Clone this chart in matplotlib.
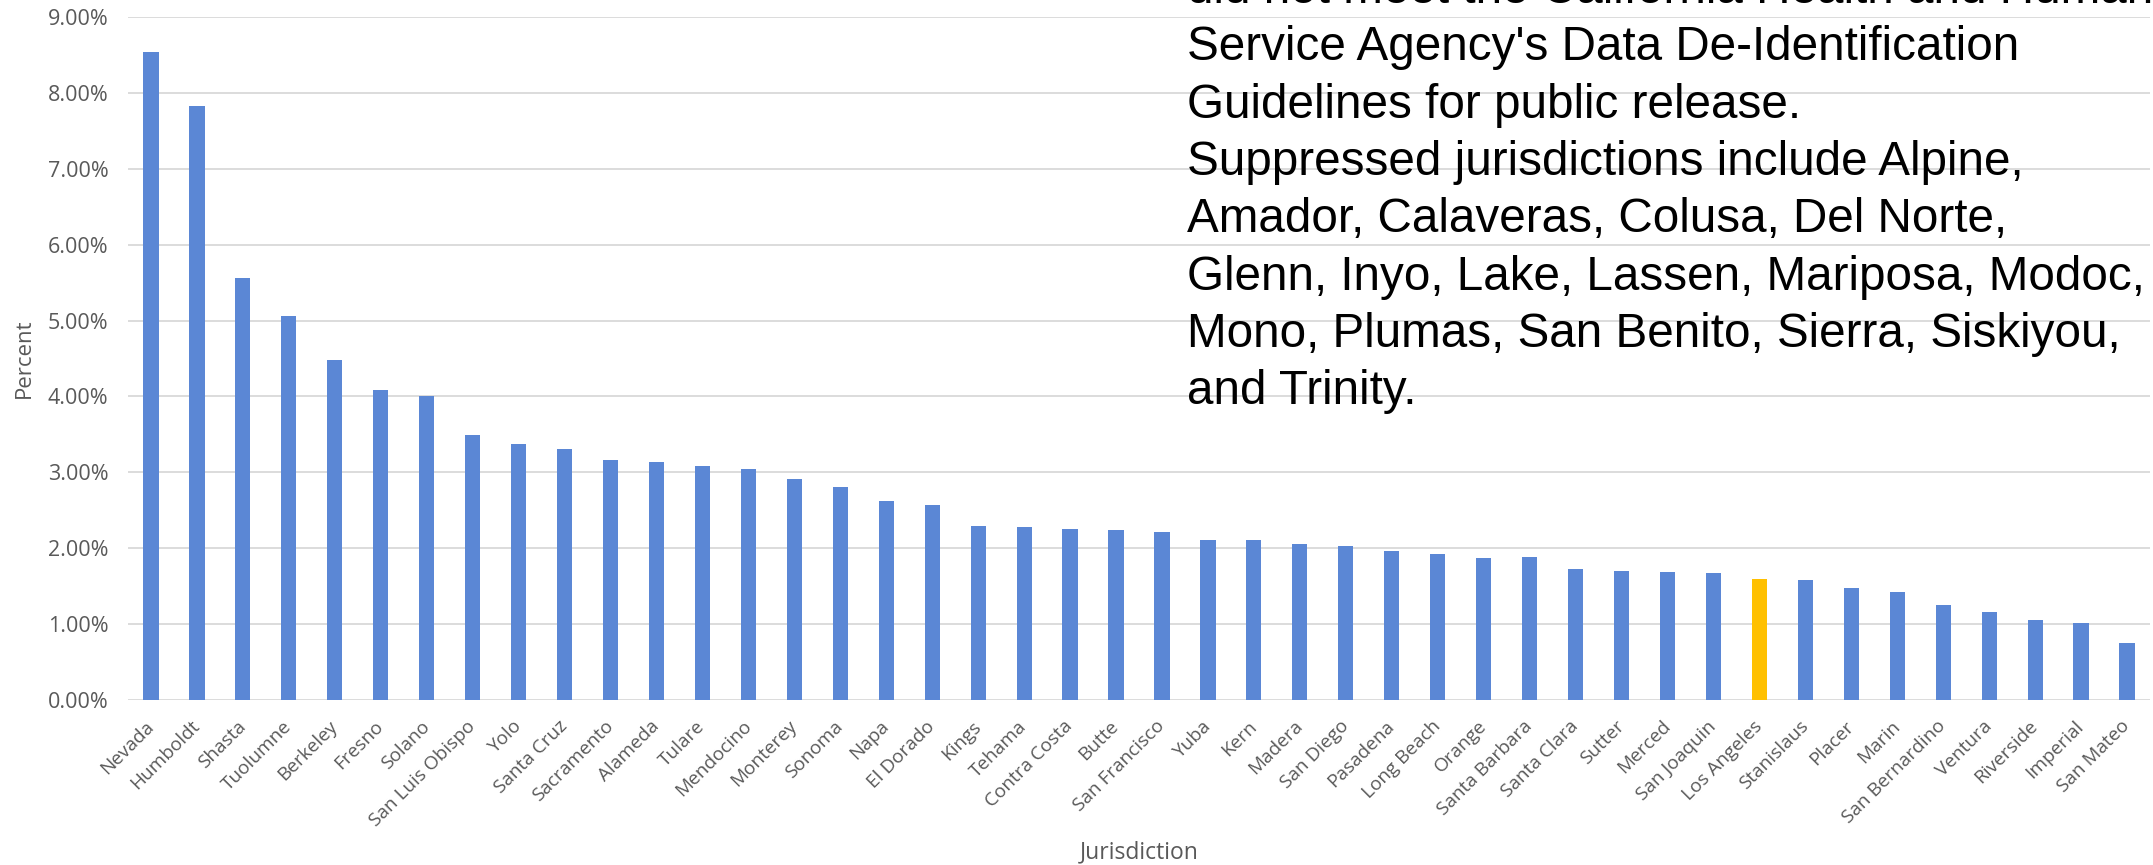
import matplotlib.pyplot as plt
from matplotlib.ticker import FuncFormatter

# Percent by jurisdiction, sorted high to low
jurisdictions = [
    "Nevada", "Humboldt", "Shasta", "Tuolumne", "Berkeley", "Fresno", "Solano",
    "San Luis Obispo", "Yolo", "Santa Cruz", "Sacramento", "Alameda", "Tulare",
    "Mendocino", "Monterey", "Sonoma", "Napa", "El Dorado", "Kings", "Tehama",
    "Contra Costa", "Butte", "San Francisco", "Yuba", "Kern", "Madera",
    "San Diego", "Pasadena", "Long Beach", "Orange", "Santa Barbara",
    "Santa Clara", "Sutter", "Merced", "San Joaquin", "Los Angeles",
    "Stanislaus", "Placer", "Marin", "San Bernardino", "Ventura", "Riverside",
    "Imperial", "San Mateo",
]
percent = [
    8.54, 7.83, 5.56, 5.06, 4.48, 4.09, 4.01,
    3.49, 3.37, 3.31, 3.16, 3.14, 3.08,
    3.04, 2.91, 2.81, 2.62, 2.57, 2.29, 2.28,
    2.25, 2.24, 2.21, 2.11, 2.11, 2.05,
    2.03, 1.96, 1.92, 1.87, 1.88,
    1.73, 1.70, 1.69, 1.67, 1.59,
    1.58, 1.48, 1.42, 1.25, 1.16, 1.05,
    1.01, 0.75,
]
highlight = "Los Angeles"

note_lines = [
    "did not meet the California Health and Human",
    "Service Agency's Data De-Identification",
    "Guidelines for public release.",
    "Suppressed jurisdictions include Alpine,",
    "Amador, Calaveras, Colusa, Del Norte,",
    "Glenn, Inyo, Lake, Lassen, Mariposa, Modoc,",
    "Mono, Plumas, San Benito, Sierra, Siskiyou,",
    "and Trinity.",
]

blue = "#5B87D5"
gold = "#FFC000"
gray = "#595959"
W, H = 2153, 865

fig = plt.figure(figsize=(W / 100, H / 100), dpi=100)
ax = fig.add_axes([128 / W, 1 - 700 / H, 2022 / W, 683 / H])

x = range(len(jurisdictions))
colors = [gold if j == highlight else blue for j in jurisdictions]
ax.bar(x, [p / 100 for p in percent], width=0.33, color=colors, zorder=3)

ax.set_xlim(-0.5, len(jurisdictions) - 0.5)
ax.set_ylim(0, 0.09)
ax.set_yticks([i / 100 for i in range(10)])
ax.yaxis.set_major_formatter(FuncFormatter(lambda v, _: f"{v * 100:.2f}%"))
ax.grid(axis="y", color="#D9D9D9", linewidth=1.3, zorder=0)
for s in ax.spines.values():
    s.set_visible(False)

ax.set_xticks(list(x))
ax.set_xticklabels(jurisdictions, rotation=45, ha="right", va="center",
                   rotation_mode="anchor", family="Open Sans", fontsize=13.7,
                   color=gray)
ax.tick_params(axis="x", length=0, pad=17)
ax.tick_params(axis="y", length=0, pad=14, labelsize=15.5, labelcolor=gray)
for lbl in ax.get_yticklabels():
    lbl.set_family("Open Sans")

fig.text(24 / W, 1 - 358 / H, "Percent", rotation=90, ha="center", va="center",
         family="Open Sans", fontsize=16, color=gray)
fig.text(1139 / W, 1 - 852 / H, "Jurisdiction", ha="center", va="center",
         family="Open Sans", fontsize=16.5, color=gray)

# suppression note, one line at a time
for i, line in enumerate(note_lines):
    fig.text(1187 / W, 1 - (3 + 57.3 * i) / H, line, ha="left", va="baseline",
             family="Liberation Sans", fontsize=34.3, color="black")

fig.savefig("out.png", dpi=100)
